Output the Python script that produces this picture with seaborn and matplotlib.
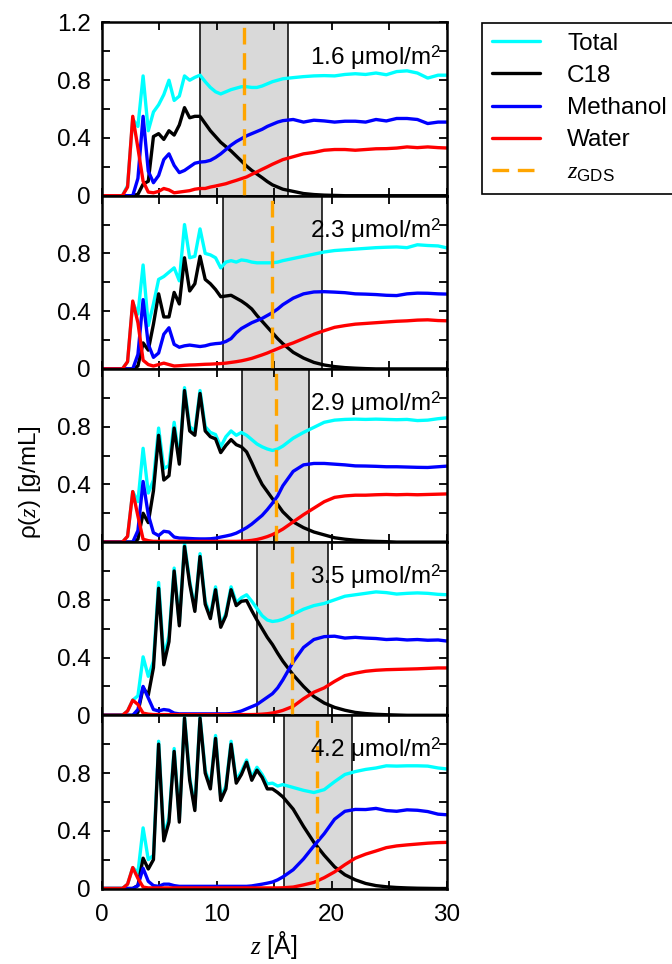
import matplotlib
matplotlib.use("Agg")
import matplotlib.pyplot as plt
import seaborn as sns
from matplotlib.lines import Line2D
from matplotlib.ticker import MultipleLocator, FixedLocator, FuncFormatter

# ---------------- data ----------------
Z = [0.0, 0.45, 0.9, 1.35, 1.8, 2.25, 2.7, 3.15, 3.6, 4.05,
     4.5, 4.95, 5.4, 5.85, 6.3, 6.75, 7.2, 7.65, 8.1, 8.55,
     9.0, 9.45, 9.9, 10.35, 10.8, 11.25, 11.7, 12.15, 12.6, 13.05,
     13.5, 13.95, 14.4, 14.85, 15.3, 15.75, 16.65, 17.55, 18.45, 19.35,
     20.25, 21.15, 22.05, 22.95, 23.85, 24.75, 25.65, 26.55, 27.45, 28.35,
     29.25, 30.15]

# 1.6 umol/m2
TOTAL_16 = [0, 0, 0, 0, 0, 0.07, 0.53, 0.48, 0.83, 0.45,
            0.58, 0.63, 0.70, 0.80, 0.66, 0.69, 0.83, 0.80, 0.82, 0.835,
            0.79, 0.75, 0.72, 0.705, 0.72, 0.735, 0.745, 0.755, 0.755, 0.75,
            0.75, 0.76, 0.775, 0.79, 0.80, 0.81, 0.818, 0.825, 0.83, 0.832,
            0.83, 0.84, 0.845, 0.84, 0.85, 0.838, 0.86, 0.865, 0.85, 0.815,
            0.835, 0.835]
C18_16 = [0, 0, 0, 0, 0, 0, 0, 0.01, 0.08, 0.10,
          0.41, 0.43, 0.39, 0.45, 0.42, 0.49, 0.61, 0.54, 0.55, 0.55,
          0.50, 0.45, 0.41, 0.37, 0.34, 0.31, 0.275, 0.24, 0.205, 0.175,
          0.15, 0.125, 0.098, 0.075, 0.06, 0.045, 0.03, 0.015, 0.008, 0.004,
          0.002, 0, 0, 0, 0, 0, 0, 0, 0, 0,
          0, 0]
MEOH_16 = [0, 0, 0, 0, 0, 0, 0, 0.12, 0.55, 0.17,
           0.09, 0.14, 0.25, 0.29, 0.21, 0.16, 0.175, 0.20, 0.225, 0.233,
           0.236, 0.245, 0.265, 0.29, 0.32, 0.35, 0.375, 0.395, 0.415, 0.43,
           0.445, 0.46, 0.48, 0.495, 0.51, 0.52, 0.528, 0.51, 0.523, 0.518,
           0.51, 0.516, 0.516, 0.51, 0.528, 0.518, 0.535, 0.535, 0.528, 0.50,
           0.51, 0.51]
WATER_16 = [0, 0, 0, 0, 0, 0.06, 0.55, 0.33, 0.10, 0.025,
            0.02, 0.03, 0.05, 0.04, 0.02, 0.025, 0.03, 0.035, 0.045, 0.05,
            0.05, 0.06, 0.067, 0.075, 0.083, 0.095, 0.106, 0.118, 0.13, 0.148,
            0.165, 0.183, 0.20, 0.218, 0.234, 0.25, 0.27, 0.29, 0.30, 0.315,
            0.32, 0.32, 0.315, 0.32, 0.325, 0.326, 0.33, 0.338, 0.333, 0.338,
            0.333, 0.33]

# 2.3 umol/m2
TOTAL_23 = [0, 0, 0, 0, 0, 0.05, 0.46, 0.38, 0.72, 0.30,
            0.45, 0.62, 0.64, 0.67, 0.70, 0.61, 1.00, 0.77, 0.78, 0.97,
            0.80, 0.79, 0.77, 0.70, 0.74, 0.75, 0.74, 0.755, 0.75, 0.74,
            0.735, 0.735, 0.735, 0.735, 0.74, 0.75, 0.765, 0.78, 0.795, 0.81,
            0.82, 0.825, 0.83, 0.835, 0.84, 0.843, 0.845, 0.84, 0.86, 0.855,
            0.852, 0.836]
C18_23 = [0, 0, 0, 0, 0, 0, 0, 0.02, 0.18, 0.13,
          0.31, 0.52, 0.36, 0.36, 0.53, 0.45, 0.77, 0.54, 0.59, 0.78,
          0.62, 0.59, 0.55, 0.50, 0.505, 0.51, 0.49, 0.47, 0.445, 0.415,
          0.37, 0.33, 0.29, 0.25, 0.21, 0.175, 0.115, 0.075, 0.045, 0.027,
          0.016, 0.009, 0.005, 0.002, 0, 0, 0, 0, 0, 0,
          0, 0]
MEOH_23 = [0, 0, 0, 0, 0, 0, 0, 0.10, 0.48, 0.17,
           0.08, 0.11, 0.24, 0.285, 0.17, 0.15, 0.16, 0.165, 0.16, 0.155,
           0.16, 0.17, 0.175, 0.178, 0.19, 0.21, 0.25, 0.28, 0.30, 0.32,
           0.335, 0.35, 0.37, 0.39, 0.415, 0.445, 0.49, 0.52, 0.533, 0.535,
           0.532, 0.528, 0.52, 0.518, 0.515, 0.51, 0.508, 0.52, 0.525, 0.524,
           0.52, 0.518]
WATER_23 = [0, 0, 0, 0, 0, 0.05, 0.47, 0.32, 0.06, 0.03,
            0.02, 0.03, 0.04, 0.03, 0.02, 0.022, 0.025, 0.027, 0.028, 0.03,
            0.032, 0.033, 0.035, 0.037, 0.04, 0.045, 0.05, 0.056, 0.064, 0.073,
            0.085, 0.097, 0.11, 0.125, 0.14, 0.155, 0.18, 0.21, 0.24, 0.265,
            0.288, 0.30, 0.31, 0.315, 0.32, 0.325, 0.33, 0.333, 0.338, 0.34,
            0.335, 0.333]

# 2.9 umol/m2
TOTAL_29 = [0, 0, 0, 0, 0, 0.04, 0.35, 0.28, 0.65, 0.34,
            0.43, 0.79, 0.51, 0.53, 0.83, 0.57, 1.07, 0.80, 0.77, 1.05,
            0.80, 0.76, 0.745, 0.66, 0.73, 0.77, 0.74, 0.76, 0.74, 0.71,
            0.68, 0.66, 0.645, 0.635, 0.645, 0.665, 0.72, 0.76, 0.795, 0.83,
            0.845, 0.85, 0.852, 0.85, 0.852, 0.85, 0.848, 0.85, 0.842, 0.845,
            0.855, 0.862]
C18_29 = [0, 0, 0, 0, 0, 0, 0, 0.02, 0.20, 0.135,
          0.355, 0.74, 0.43, 0.46, 0.79, 0.54, 1.05, 0.77, 0.74, 1.03,
          0.77, 0.73, 0.715, 0.62, 0.67, 0.71, 0.675, 0.66, 0.625, 0.55,
          0.47, 0.40, 0.35, 0.30, 0.26, 0.21, 0.14, 0.10, 0.07, 0.05,
          0.03, 0.02, 0.013, 0.008, 0.005, 0.003, 0, 0, 0, 0,
          0, 0]
MEOH_29 = [0, 0, 0, 0, 0, 0, 0, 0.08, 0.42, 0.19,
           0.065, 0.045, 0.075, 0.07, 0.035, 0.028, 0.027, 0.025, 0.023, 0.022,
           0.022, 0.023, 0.027, 0.035, 0.042, 0.05, 0.062, 0.08, 0.10, 0.125,
           0.155, 0.185, 0.225, 0.27, 0.32, 0.39, 0.49, 0.535, 0.545, 0.545,
           0.54, 0.535, 0.528, 0.527, 0.525, 0.522, 0.522, 0.52, 0.518, 0.517,
           0.522, 0.527]
WATER_29 = [0, 0, 0, 0, 0, 0.04, 0.35, 0.18, 0.02, 0.01,
            0.005, 0.005, 0.005, 0.005, 0.005, 0.005, 0.005, 0.005, 0.005, 0.005,
            0.005, 0.005, 0.005, 0.005, 0.005, 0.005, 0.005, 0.006, 0.008, 0.012,
            0.018, 0.027, 0.038, 0.052, 0.07, 0.09, 0.14, 0.19, 0.235, 0.28,
            0.31, 0.32, 0.325, 0.325, 0.328, 0.33, 0.328, 0.33, 0.328, 0.33,
            0.332, 0.334]

# 3.5 umol/m2
TOTAL_35 = [0, 0, 0, 0, 0, 0.03, 0.105, 0.135, 0.405, 0.27,
            0.375, 0.92, 0.40, 0.55, 1.02, 0.64, 1.19, 0.93, 0.735, 1.12,
            0.79, 0.69, 0.89, 0.625, 0.705, 0.89, 0.78, 0.815, 0.835, 0.79,
            0.74, 0.69, 0.66, 0.65, 0.655, 0.665, 0.70, 0.735, 0.76, 0.775,
            0.80, 0.825, 0.835, 0.845, 0.855, 0.85, 0.84, 0.845, 0.848, 0.845,
            0.838, 0.835]
C18_35 = [0, 0, 0, 0, 0, 0, 0, 0.02, 0.19, 0.14,
          0.33, 0.88, 0.35, 0.51, 1.00, 0.62, 1.17, 0.91, 0.72, 1.10,
          0.77, 0.67, 0.87, 0.61, 0.69, 0.87, 0.76, 0.79, 0.795, 0.725,
          0.66, 0.60, 0.54, 0.49, 0.43, 0.375, 0.28, 0.20, 0.13, 0.085,
          0.055, 0.035, 0.02, 0.012, 0.007, 0.004, 0.002, 0, 0, 0,
          0, 0]
MEOH_35 = [0, 0, 0, 0, 0, 0, 0, 0.04, 0.20, 0.12,
           0.04, 0.03, 0.04, 0.035, 0.015, 0.01, 0.01, 0.01, 0.01, 0.01,
           0.01, 0.01, 0.01, 0.01, 0.01, 0.012, 0.02, 0.03, 0.045, 0.06,
           0.075, 0.10, 0.125, 0.15, 0.19, 0.245, 0.37, 0.47, 0.525, 0.545,
           0.548, 0.535, 0.54, 0.535, 0.532, 0.525, 0.528, 0.522, 0.525, 0.52,
           0.522, 0.513]
WATER_35 = [0, 0, 0, 0, 0, 0.03, 0.105, 0.075, 0.015, 0.008,
            0.005, 0.005, 0.005, 0.005, 0.005, 0.005, 0.005, 0.005, 0.005, 0.005,
            0.005, 0.005, 0.005, 0.005, 0.005, 0.005, 0.005, 0.005, 0.005, 0.005,
            0.006, 0.008, 0.011, 0.016, 0.024, 0.034, 0.062, 0.115, 0.16, 0.19,
            0.235, 0.275, 0.292, 0.305, 0.312, 0.316, 0.318, 0.32, 0.322, 0.325,
            0.328, 0.328]

# 4.2 umol/m2
TOTAL_42 = [0, 0, 0, 0, 0, 0.03, 0.145, 0.11, 0.42, 0.20,
            0.23, 1.02, 0.36, 0.49, 0.97, 0.48, 1.19, 0.77, 0.56, 1.19,
            0.82, 0.71, 1.06, 0.63, 0.71, 1.02, 0.75, 0.81, 0.89, 0.77,
            0.84, 0.79, 0.725, 0.73, 0.71, 0.72, 0.70, 0.68, 0.665, 0.685,
            0.74, 0.79, 0.81, 0.825, 0.835, 0.85, 0.848, 0.85, 0.85, 0.848,
            0.835, 0.827]
C18_42 = [0, 0, 0, 0, 0, 0, 0, 0.02, 0.21, 0.135,
          0.20, 1.00, 0.33, 0.46, 0.95, 0.46, 1.18, 0.75, 0.54, 1.18,
          0.80, 0.69, 1.04, 0.61, 0.69, 1.00, 0.73, 0.79, 0.875, 0.75,
          0.82, 0.77, 0.69, 0.69, 0.665, 0.635, 0.55, 0.43, 0.32, 0.23,
          0.15, 0.095, 0.06, 0.035, 0.02, 0.012, 0.007, 0.004, 0.002, 0.001,
          0, 0]
MEOH_42 = [0, 0, 0, 0, 0, 0, 0, 0.02, 0.14, 0.05,
           0.02, 0.015, 0.03, 0.03, 0.02, 0.015, 0.015, 0.015, 0.015, 0.015,
           0.015, 0.015, 0.015, 0.015, 0.015, 0.015, 0.015, 0.015, 0.015, 0.018,
           0.024, 0.03, 0.037, 0.045, 0.06, 0.08, 0.13, 0.205, 0.295, 0.38,
           0.48, 0.535, 0.548, 0.547, 0.555, 0.54, 0.535, 0.545, 0.542, 0.533,
           0.515, 0.51]
WATER_42 = [0, 0, 0, 0, 0, 0.03, 0.145, 0.07, 0.01, 0.004,
            0.004, 0.004, 0.004, 0.004, 0.004, 0.004, 0.004, 0.004, 0.004, 0.004,
            0.004, 0.004, 0.004, 0.004, 0.004, 0.004, 0.004, 0.004, 0.004, 0.004,
            0.004, 0.004, 0.004, 0.004, 0.004, 0.005, 0.01, 0.025, 0.042, 0.075,
            0.115, 0.165, 0.21, 0.238, 0.26, 0.283, 0.295, 0.302, 0.308, 0.314,
            0.318, 0.32]

COVERAGE = ["1.6", "2.3", "2.9", "3.5", "4.2"]
BAND_LO = [8.55, 10.52, 12.23, 13.54, 15.83]
BAND_HI = [16.17, 19.19, 18.03, 19.65, 21.74]
Z_GDS = [12.38, 14.81, 15.13, 16.58, 18.75]

SERIES_NAMES = ["Total", "C18", "Methanol", "Water"]
PANELS = [
    [TOTAL_16, C18_16, MEOH_16, WATER_16],
    [TOTAL_23, C18_23, MEOH_23, WATER_23],
    [TOTAL_29, C18_29, MEOH_29, WATER_29],
    [TOTAL_35, C18_35, MEOH_35, WATER_35],
    [TOTAL_42, C18_42, MEOH_42, WATER_42],
]

# ---------------- style ----------------
sns.set_style("ticks")
plt.rcParams["font.family"] = ["Liberation Sans", "DejaVu Sans"]
plt.rcParams["mathtext.fontset"] = "custom"
plt.rcParams["mathtext.rm"] = "Liberation Sans"
plt.rcParams["mathtext.it"] = "Liberation Serif:italic"
plt.rcParams["mathtext.bf"] = "Liberation Sans:bold"
plt.rcParams["axes.edgecolor"] = "black"
plt.rcParams["xtick.color"] = "black"
plt.rcParams["ytick.color"] = "black"
plt.rcParams["text.color"] = "black"
FS = 17.5

COLORS = ["#00FFFF", "#000000", "#0000FF", "#FF0000"]
GDS_COLOR = "#FFA500"
LW = 2.4

fig = plt.figure(figsize=(6.72, 9.64), dpi=100)
L = 101.7 / 672
W = 345.0 / 672
H = 173.2 / 964
B0 = 75.5 / 964

fmt = FuncFormatter(lambda v, _: "0" if abs(v) < 1e-9 else f"{v:.1f}")

for i in range(5):
    ax = fig.add_axes([L, B0 + (4 - i) * H, W, H])
    ax.axvspan(BAND_LO[i], BAND_HI[i], facecolor="#D9D9D9",
               edgecolor="black", lw=1.1, zorder=0)
    for y, c in zip(PANELS[i], COLORS):
        sns.lineplot(x=Z, y=y, ax=ax, color=c, lw=LW, legend=False,
                     estimator=None, sort=False, zorder=2)
    ax.axvline(Z_GDS[i], color=GDS_COLOR, lw=2.4, ls=(0, (5, 2.6)), zorder=3)
    ax.set_xlim(0, 30)
    ax.set_ylim(0, 1.2)
    ax.xaxis.set_major_locator(MultipleLocator(10))
    ax.xaxis.set_minor_locator(MultipleLocator(5))
    if i == 0:
        ax.yaxis.set_major_locator(FixedLocator([0, 0.4, 0.8, 1.2]))
    else:
        ax.yaxis.set_major_locator(FixedLocator([0, 0.4, 0.8]))
    ax.yaxis.set_minor_locator(FixedLocator([0.2, 0.6, 1.0]))
    ax.yaxis.set_major_formatter(fmt)
    ax.tick_params(which="both", direction="in", top=True, right=True,
                   length=6, width=1.3, labelsize=FS, color="black")
    ax.tick_params(axis="y", which="major", pad=8)
    ax.tick_params(axis="x", which="major", pad=11)
    if i < 4:
        ax.tick_params(axis="x", labelbottom=False)
    for s in ax.spines.values():
        s.set_linewidth(1.8)
        s.set_color("black")
    ax.set_xlabel("")
    ax.set_ylabel("")
    ax.text(0.985, 0.80, COVERAGE[i] + " \u03bcmol/m$^2$", transform=ax.transAxes,
            ha="right", va="center", fontsize=FS, zorder=6)

fig.text(30 / 672, 1 - 482 / 964, "\u03c1($z$) [g/mL]", rotation=90,
         ha="center", va="center", fontsize=FS)
fig.text(274 / 672, 1 - 945 / 964, "$z$ [\u00c5]", ha="center", va="center",
         fontsize=FS + 0.5)

handles = [Line2D([], [], color=c, lw=LW) for c in COLORS]
handles.append(Line2D([], [], color=GDS_COLOR, lw=2.4, ls=(0, (5, 2.6))))
labels = SERIES_NAMES + ["$z_{\\mathrm{GDS}}$"]
leg = fig.legend(handles, labels, loc="upper left",
                 bbox_to_anchor=(482 / 672, 1 - 23 / 964),
                 fontsize=FS, frameon=True, fancybox=False, framealpha=1,
                 edgecolor="black", borderpad=0.4, labelspacing=0.42,
                 handlelength=2.0, handletextpad=1.1, borderaxespad=0)
leg.get_frame().set_linewidth(1.2)

fig.savefig("out.png", dpi=100)
